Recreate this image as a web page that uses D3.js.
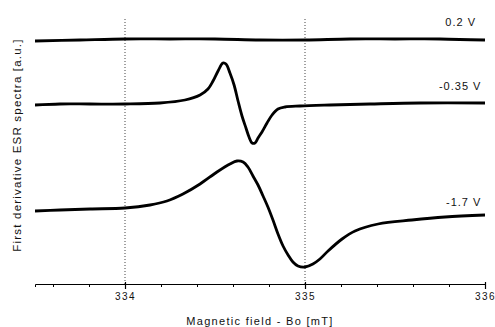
<!DOCTYPE html>
<html>
<head>
<meta charset="utf-8">
<script src="https://cdn.jsdelivr.net/npm/d3@7"></script>
<style>
  body { margin: 0; background: #fff; }
  text { font-family: "Liberation Sans", Arial, sans-serif; }
</style>
</head>
<body>
<div id="wrapper"></div>
<script>
// magnetic field (mT) and first derivative signal (a.u.)
const field_02 = [333.5, 333.75, 334.0, 334.25, 334.5, 334.75, 335.0, 335.25, 335.5, 335.75, 336.0]
const signal_02 = [24.3, 24.4, 24.5, 24.5, 24.5, 24.4, 24.4, 24.5, 24.5, 24.5, 24.4]

const field_035 = [333.5, 333.639, 333.806, 334.0, 334.194, 334.333, 334.417, 334.461, 334.489, 334.517,
  334.544, 334.561, 334.583, 334.606, 334.628, 334.65, 334.672, 334.689, 334.706, 334.722,
  334.739, 334.761, 334.789, 334.817, 334.85, 334.889, 334.972, 335.139, 335.361, 335.639, 336.0]
const signal_035 = [17.9, 18.0, 18.0, 18.0, 18.1, 18.4, 18.9, 19.5, 20.3, 21.3,
  22.1, 22.0, 21.1, 19.9, 18.3, 16.8, 15.6, 14.7, 14.1, 14.1,
  14.6, 15.2, 16.1, 16.9, 17.5, 17.7, 17.8, 17.9, 18.0, 18.1, 18.1]

const field_17 = [333.5, 333.639, 333.806, 334.0, 334.139, 334.233, 334.322, 334.417, 334.511, 334.583,
  334.622, 334.656, 334.683, 334.711, 334.739, 334.767, 334.794, 334.822, 334.85, 334.878,
  334.906, 334.933, 334.961, 335.0, 335.044, 335.083, 335.128, 335.206, 335.278, 335.406,
  335.594, 335.778, 336.0]
const signal_17 = [7.3, 7.4, 7.5, 7.6, 7.9, 8.3, 9.0, 10.0, 11.2, 12.0,
  12.3, 12.2, 11.7, 10.8, 9.9, 8.8, 7.7, 6.4, 5.0, 3.8,
  2.9, 2.2, 1.8, 1.7, 2.0, 2.5, 3.3, 4.5, 5.3, 6.0,
  6.4, 6.7, 6.9]

const seriesLabels = ["0.2 V", "-0.35 V", "-1.7 V"]
const labelFields = [335.95, 335.98, 335.98]
const labelSignals = [25.8, 19.4, 7.8]

const majorTicks = [334, 335, 336]
const gridFields = [334, 335]

function drawSpectra() {
  let dimensions = {
    width: 495,
    height: 327,
    margin: {
      top: 14,
      right: 10,
      bottom: 43,
      left: 35
    }
  }
  dimensions.boundedWidth = dimensions.width
    - dimensions.margin.left
    - dimensions.margin.right
  dimensions.boundedHeight = dimensions.height
    - dimensions.margin.top
    - dimensions.margin.bottom

  const wrapper = d3.select("#wrapper")
    .append("svg")
      .attr("width", dimensions.width)
      .attr("height", dimensions.height)

  const bounds = wrapper.append("g")
    .attr("transform", `translate(${dimensions.margin.left}, ${dimensions.margin.top})`)

  const xScale = d3.scaleLinear()
    .domain([333.5, 336])
    .range([0, dimensions.boundedWidth])

  const yScale = d3.scaleLinear()
    .domain([0, 27])
    .range([dimensions.boundedHeight, 0])

  // dotted guides at 334 and 335
  bounds.selectAll(".guide")
    .data(gridFields)
    .join("line")
      .attr("class", "guide")
      .attr("x1", d => xScale(d))
      .attr("x2", d => xScale(d))
      .attr("y1", yScale(26.5))
      .attr("y2", dimensions.boundedHeight)
      .attr("stroke", "#444")
      .attr("stroke-width", 1)
      .attr("stroke-dasharray", "1 2")

  // traces
  const series = [
    d3.zip(field_02, signal_02),
    d3.zip(field_035, signal_035),
    d3.zip(field_17, signal_17)
  ]

  const lineGenerator = d3.line()
    .x(d => xScale(d[0]))
    .y(d => yScale(d[1]))
    .curve(d3.curveCatmullRom.alpha(0.5))

  bounds.selectAll(".trace")
    .data(series)
    .join("path")
      .attr("class", "trace")
      .attr("d", lineGenerator)
      .attr("fill", "none")
      .attr("stroke", "#000")
      .attr("stroke-width", 2.8)
      .attr("stroke-linejoin", "round")

  // trace labels
  bounds.selectAll(".label")
    .data(seriesLabels)
    .join("text")
      .attr("class", "label")
      .attr("x", (d, i) => xScale(labelFields[i]))
      .attr("y", (d, i) => yScale(labelSignals[i]))
      .attr("text-anchor", "end")
      .style("font-size", "11px")
      .style("letter-spacing", "1px")
      .attr("fill", "#111")
      .text(d => d)

  // x axis: minor ticks every 0.2 mT
  const xAxisGenerator = d3.axisBottom(xScale)
    .tickValues(d3.range(333.6, 336.01, 0.2))
    .tickSize(3)
    .tickFormat("")

  const xAxis = bounds.append("g")
    .attr("transform", `translate(0, ${dimensions.boundedHeight})`)
    .call(xAxisGenerator)
  xAxis.select(".domain").attr("stroke", "#000")
  xAxis.selectAll(".tick line").attr("stroke", "#000")

  // major ticks with labels
  const majorAxis = d3.axisBottom(xScale)
    .tickValues(majorTicks)
    .tickSize(5)
    .tickPadding(4)
    .tickFormat(d3.format("d"))

  const xMajor = bounds.append("g")
    .attr("transform", `translate(0, ${dimensions.boundedHeight})`)
    .call(majorAxis)
  xMajor.select(".domain").remove()
  xMajor.selectAll(".tick line")
    .attr("y1", -2)
    .attr("stroke", "#000")
    .attr("stroke-width", 1.2)
  xMajor.selectAll(".tick text")
    .style("font-size", "10px")
    .style("letter-spacing", "1.5px")
    .style("font-family", "'Liberation Sans', Arial, sans-serif")
    .attr("fill", "#111")

  // axis titles
  wrapper.append("text")
    .attr("x", 260)
    .attr("y", 325)
    .attr("text-anchor", "middle")
    .style("font-size", "11px")
    .style("letter-spacing", "1.3px")
    .attr("fill", "#111")
    .text("Magnetic field - Bo [mT]")

  wrapper.append("text")
    .attr("transform", "translate(21, 145) rotate(-90)")
    .attr("text-anchor", "middle")
    .style("font-size", "11.5px")
    .style("letter-spacing", "1.2px")
    .attr("fill", "#111")
    .text("First derivative ESR spectra [a.u.]")
}

drawSpectra()
</script>
</body>
</html>
